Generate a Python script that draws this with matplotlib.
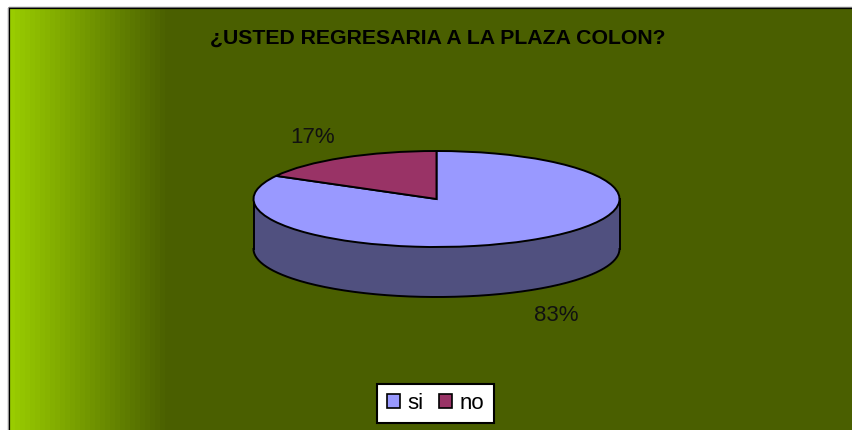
import numpy as np
import matplotlib
matplotlib.use('Agg')
import matplotlib.pyplot as plt
from matplotlib.colors import LinearSegmentedColormap
from matplotlib.patches import Patch, Rectangle

matplotlib.rcParams['font.family'] = ['Liberation Sans', 'DejaVu Sans']

W, H = 852, 430

TITLE = '¿USTED REGRESARIA A LA PLAZA COLON?'
labels = ['si', 'no']
values = [83, 17]
colors = ['#9999FF', '#993366']
SIDE_COLOR = '#50507F'
GRAD_LEFT = '#99CC00'
GRAD_RIGHT = '#4A5F00'

# pie geometry in pixels
CX, CY = 436.5, 199
RX, RY = 183, 48
DEPTH = 50
LW = 1.4


def px_rect(x0, y0, x1, y1):
    return [x0 / W, 1 - y1 / H, (x1 - x0) / W, (y1 - y0) / H]


fig = plt.figure(figsize=(W / 100, H / 100), dpi=100, facecolor='white')

# fondo con degradado
bg = fig.add_axes([0, 0, 1, 1])
bg.axis('off')
cmap = LinearSegmentedColormap.from_list('verde', [GRAD_LEFT, GRAD_RIGHT], N=32)
bg.imshow(np.linspace(0, 1, 160).reshape(1, -1), cmap=cmap, aspect='auto',
          extent=(10, 170, H, 9), interpolation='nearest', zorder=1)
bg.add_patch(Rectangle((170, 9), W - 170, H - 9, color=GRAD_RIGHT, lw=0, zorder=1))
bg.plot([9, 9], [H, 8], color='black', lw=1.6, zorder=2, solid_capstyle='butt')
bg.plot([9, W], [8.3, 8.3], color='black', lw=1.6, zorder=2, solid_capstyle='butt')
bg.plot([7.8, 7.8], [H, 7], color='#999999', lw=0.7, zorder=2, solid_capstyle='butt')
bg.plot([7.8, W], [7, 7], color='#777777', lw=0.7, zorder=2, solid_capstyle='butt')
bg.set_xlim(0, W)
bg.set_ylim(H, 0)

# tarta 3D: elipse de radio 1 en ejes no proporcionales
depth_u = DEPTH / RY
ax = fig.add_axes(px_rect(CX - RX - 4, CY - RY - 4, CX + RX + 4, CY + RY + DEPTH + 4))
ax.patch.set_alpha(0)
t = np.linspace(np.pi, 2 * np.pi, 200)
xs, ys = np.cos(t), np.sin(t)
ax.fill_between(xs, ys - depth_u, ys, color=SIDE_COLOR, lw=0, zorder=1)
ax.plot(xs, ys - depth_u, color='black', lw=LW, zorder=2)
ax.plot([-1, -1], [0, -depth_u], color='black', lw=LW, zorder=2)
ax.plot([1, 1], [0, -depth_u], color='black', lw=LW, zorder=2)
wedges, _ = ax.pie(values, colors=colors, startangle=90, counterclock=False,
                   radius=1, wedgeprops={'edgecolor': 'black', 'linewidth': LW, 'zorder': 3})
ax.set_aspect('auto')
ax.set_xlim(-1 - 4 / RX, 1 + 4 / RX)
ax.set_ylim(-1 - depth_u - 4 / RY, 1 + 4 / RY)
ax.axis('off')

fig.text(438 / W, 1 - 38 / H, TITLE, ha='center', va='center',
         fontsize=15.35, fontweight='bold', color='black')
fig.text(313 / W, 1 - 137.5 / H, f'{values[1]}%', ha='center', va='center',
         fontsize=16, color='#111111')
fig.text(556.5 / W, 1 - 315.5 / H, f'{values[0]}%', ha='center', va='center',
         fontsize=16, color='#111111')

handles = [Patch(facecolor=c, edgecolor='black', linewidth=1.2, label=l)
           for c, l in zip(colors, labels)]
leg = fig.legend(handles=handles, ncol=2, loc='center',
                 bbox_to_anchor=(435.5 / W, 1 - 403.5 / H), frameon=True, fancybox=False,
                 fontsize=16, handlelength=0.6, handleheight=0.6, handletextpad=0.35,
                 columnspacing=0.66, borderpad=0.42, borderaxespad=0, framealpha=1,
                 facecolor='white', edgecolor='black')
leg.get_frame().set_linewidth(1.5)

fig.savefig('out.png', dpi=100)
